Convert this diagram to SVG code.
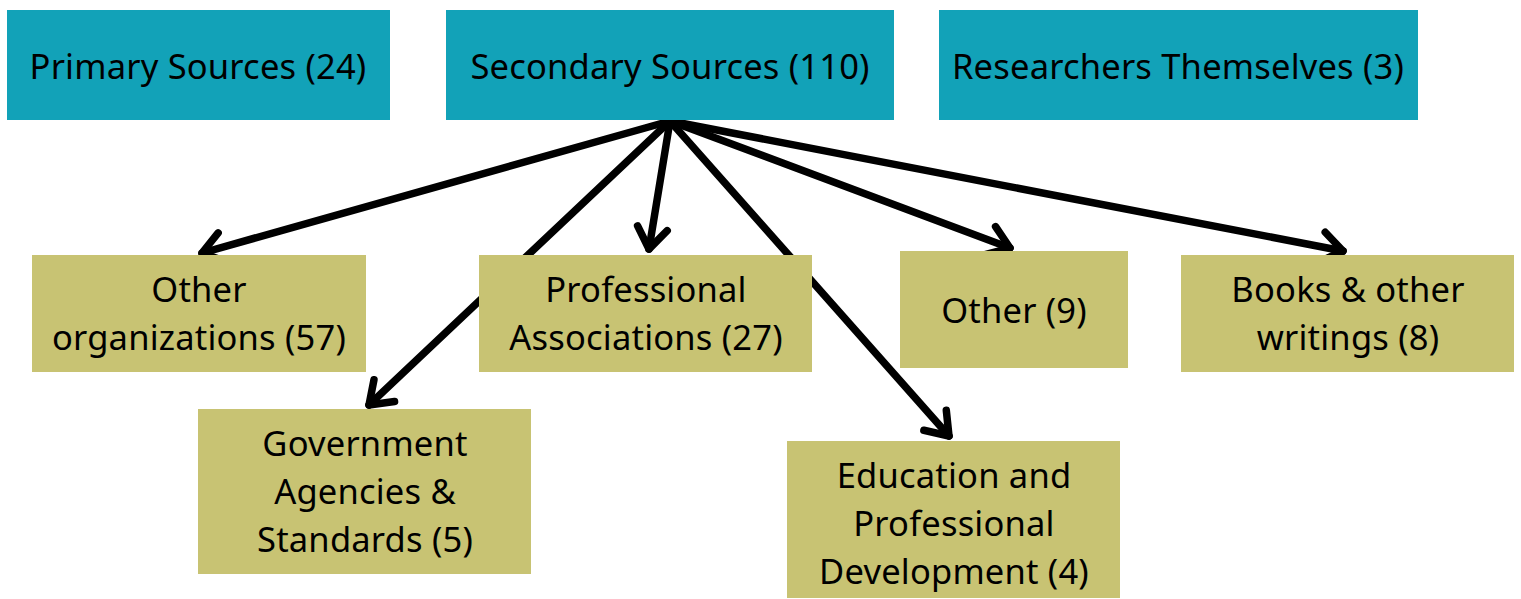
<svg xmlns="http://www.w3.org/2000/svg" width="1521" height="599" viewBox="0 0 1521 599">
<style>
.top{fill:#12A2B8}
.sub{fill:#C8C373}
text{font-family:"Noto Sans","Open Sans",sans-serif;font-size:34.5px;letter-spacing:0.2px;fill:#000;text-anchor:middle;dominant-baseline:central}
.conn line{stroke:#000;stroke-width:7.5;stroke-linecap:round}
</style>
<defs>
<marker id="arr" markerUnits="userSpaceOnUse" markerWidth="60" markerHeight="60" viewBox="-30 -30 60 60" refX="0" refY="0" orient="auto" overflow="visible">
<path d="M -21 -15 L 0 0 L -21 15" fill="none" stroke="#000" stroke-width="7.5" stroke-linecap="round" stroke-linejoin="round"/>
</marker>
</defs>
<g class="conn">
<line x1="670" y1="121" x2="202" y2="253" marker-end="url(#arr)"/>
<line x1="670" y1="121" x2="369" y2="405" marker-end="url(#arr)"/>
<line x1="670" y1="121" x2="649" y2="249" marker-end="url(#arr)"/>
<line x1="670" y1="121" x2="949" y2="436" marker-end="url(#arr)"/>
<line x1="670" y1="121" x2="1010" y2="248" marker-end="url(#arr)"/>
<line x1="670" y1="121" x2="1343" y2="251" marker-end="url(#arr)"/>
</g>
<g id="primary"><rect class="top" x="7" y="10" width="383" height="110"/><text x="198" y="65">Primary Sources (24)</text></g>
<g id="secondary"><rect class="top" x="446" y="10" width="448" height="110"/><text x="670" y="65">Secondary Sources (110)</text></g>
<g id="researchers"><rect class="top" x="939" y="10" width="479" height="110"/><text x="1178" y="65">Researchers Themselves (3)</text></g>
<g id="other-orgs"><rect class="sub" x="32" y="255" width="334" height="117"/><text x="199" y="288">Other</text><text x="199" y="336">organizations (57)</text></g>
<g id="prof-assoc"><rect class="sub" x="479" y="255" width="333" height="117"/><text x="646" y="288">Professional</text><text x="646" y="336">Associations (27)</text></g>
<g id="other"><rect class="sub" x="900" y="251" width="228" height="117"/><text x="1014" y="309">Other (9)</text></g>
<g id="books"><rect class="sub" x="1181" y="255" width="333" height="117"/><text x="1348" y="288">Books &amp; other</text><text x="1348" y="336">writings (8)</text></g>
<g id="government"><rect class="sub" x="198" y="409" width="333" height="165"/><text x="365" y="442">Government</text><text x="365" y="490">Agencies &amp;</text><text x="365" y="538">Standards (5)</text></g>
<g id="education"><rect class="sub" x="787" y="441" width="333" height="157"/><text x="954" y="474">Education and</text><text x="954" y="522">Professional</text><text x="954" y="570">Development (4)</text></g>
</svg>
